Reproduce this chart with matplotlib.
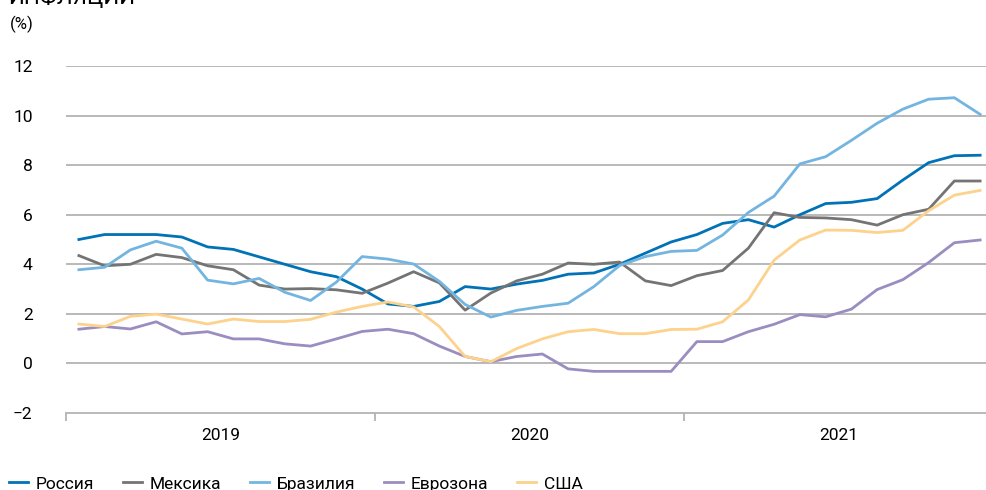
import numpy as np
import matplotlib.pyplot as plt

plt.rcParams['font.family'] = ['Roboto', 'DejaVu Sans']

years = ['2019', '2020', '2021']

russia = [5.0, 5.2, 5.2, 5.2, 5.1, 4.7, 4.6, 4.3, 4.0, 3.7, 3.5, 3.0,
          2.4, 2.3, 2.5, 3.1, 3.0, 3.2, 3.35, 3.6, 3.65, 4.0, 4.45, 4.9,
          5.2, 5.65, 5.8, 5.5, 6.0, 6.45, 6.5, 6.65, 7.4, 8.1, 8.38, 8.4]
mexico = [4.35, 3.94, 4.0, 4.4, 4.27, 3.94, 3.78, 3.16, 3.0, 3.02, 2.97, 2.83,
          3.24, 3.7, 3.25, 2.15, 2.84, 3.33, 3.6, 4.05, 4.0, 4.09, 3.33, 3.14,
          3.54, 3.75, 4.65, 6.08, 5.89, 5.87, 5.8, 5.58, 6.0, 6.22, 7.36, 7.36]
brazil = [3.78, 3.88, 4.58, 4.93, 4.65, 3.36, 3.21, 3.43, 2.87, 2.54, 3.28, 4.31,
          4.21, 4.01, 3.31, 2.38, 1.87, 2.14, 2.3, 2.43, 3.1, 3.95, 4.31, 4.52,
          4.56, 5.18, 6.09, 6.75, 8.05, 8.34, 9.0, 9.69, 10.26, 10.66, 10.72, 10.05]
eurozone = [1.38, 1.49, 1.39, 1.68, 1.19, 1.28, 0.99, 0.99, 0.79, 0.7, 0.99, 1.29,
            1.38, 1.2, 0.7, 0.28, 0.07, 0.28, 0.38, -0.22, -0.32, -0.32, -0.32, -0.32,
            0.88, 0.88, 1.28, 1.58, 1.97, 1.88, 2.19, 2.98, 3.38, 4.07, 4.87, 4.98]
usa = [1.59, 1.49, 1.9, 1.99, 1.79, 1.59, 1.79, 1.69, 1.69, 1.78, 2.07, 2.3,
       2.48, 2.28, 1.49, 0.28, 0.07, 0.6, 0.99, 1.28, 1.37, 1.2, 1.2, 1.37,
       1.38, 1.68, 2.56, 4.17, 4.98, 5.38, 5.37, 5.28, 5.37, 6.16, 6.79, 6.98]

series = [('Россия', russia, '#0072b5'),
          ('Мексика', mexico, '#747474'),
          ('Бразилия', brazil, '#73b5e0'),
          ('Еврозона', eurozone, '#9a8dc0'),
          ('США', usa, '#fcd28c')]

x = np.arange(len(russia))

fig = plt.figure(figsize=(9.87, 4.9), dpi=100)
ax = fig.add_axes([66 / 987, 77 / 490, 927 / 987, 347 / 490])

for name, vals, col in series:
    ax.plot(x, vals, color=col, lw=2, label=name, solid_joinstyle='round')

ax.set_xlim(-0.5, 35.5)
ax.set_ylim(-2, 12)
ax.set_yticks(np.arange(-2, 13, 2))
ax.set_yticklabels(['−2', '0', '2', '4', '6', '8', '10', '12'])
for v in range(0, 13, 2):
    ax.axhline(v, color='#b3b3b3', lw=1.3, zorder=0)

for s in ['top', 'right', 'left']:
    ax.spines[s].set_visible(False)
ax.spines['bottom'].set_color('#b3b3b3')
ax.spines['bottom'].set_linewidth(1.3)

ax.set_xticks([-0.5, 11.5, 23.5, 35.5])
ax.set_xticklabels([])
ax.tick_params(axis='x', which='major', direction='out', length=6,
               width=1.3, color='#b3b3b3')
ax.set_xticks([5.5, 17.5, 29.5], minor=True)
ax.set_xticklabels(years, minor=True)
ax.tick_params(axis='x', which='minor', length=0, pad=11, labelsize=12.5)
ax.tick_params(axis='y', length=0, pad=24, labelsize=12.5)

fig.text(8 / 987, 1 - 3.5 / 490, 'ИНФЛЯЦИИ', fontsize=16, va='baseline')
fig.text(10 / 987, 1 - 24 / 490, '(%)', fontsize=12, va='center')

fig.legend(loc='center left', bbox_to_anchor=(9 / 987, 1 - 484 / 490),
           ncol=5, frameon=False, fontsize=12.5, handlelength=1.1,
           handletextpad=0.45, columnspacing=1.65, borderpad=0,
           borderaxespad=0)

fig.savefig('out.png', dpi=100)
